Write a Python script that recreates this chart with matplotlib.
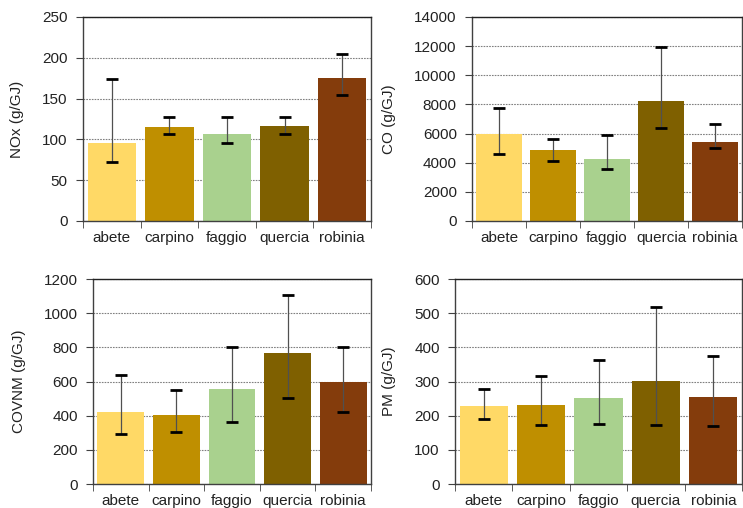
import numpy as np
import matplotlib
matplotlib.use("Agg")
import matplotlib.pyplot as plt

plt.rcParams['font.family'] = ['Liberation Sans', 'DejaVu Sans']

species = ["abete", "carpino", "faggio", "quercia", "robinia"]
colors = ["#FFD966", "#BF8F00", "#A9D18E", "#7F6000", "#843C0C"]

# mean values with lower / upper ends of the error bars
nox = [95, 115, 107, 116, 175]
nox_lo = [72, 106, 95, 106, 154]
nox_hi = [174, 127, 128, 128, 205]

co = [5950, 4850, 4250, 8250, 5450]
co_lo = [4570, 4130, 3580, 6400, 4980]
co_hi = [7780, 5660, 5900, 11950, 6680]

covnm = [420, 402, 554, 765, 600]
covnm_lo = [291, 302, 361, 503, 420]
covnm_hi = [638, 552, 800, 1104, 804]

pm = [228, 232, 251, 302, 254]
pm_lo = [190, 174, 176, 174, 170]
pm_hi = [278, 315, 363, 518, 375]


def draw_panel(ax, vals, lo, hi, ymax, ystep, ylabel):
    x = np.arange(len(species))
    ax.set_axisbelow(True)
    ax.yaxis.grid(True, linestyle=(0, (1.5, 1.0)), color="#808080", linewidth=0.8)
    ax.bar(x, vals, 0.84, color=colors, zorder=2)
    vals = np.array(vals)
    yerr = [vals - np.array(lo), np.array(hi) - vals]
    eb = ax.errorbar(x, vals, yerr=yerr, fmt="none", ecolor="#505050", elinewidth=0.9,
                     capsize=4.2, capthick=2.0, zorder=3)
    for cap in eb[1]:
        cap.set_markeredgecolor("black")
    ax.set_xlim(-0.5, len(species) - 0.5)
    ax.set_ylim(0, ymax)
    ax.set_yticks(np.arange(0, ymax + 1, ystep))
    ax.set_xticks(x)
    ax.set_xticklabels(species)
    ax.set_xticks(np.arange(-0.5, len(species), 1.0), minor=True)
    ax.tick_params(axis="x", which="major", length=0, pad=7, labelsize=11, labelcolor="#222222")
    ax.tick_params(axis="x", which="minor", length=5, color="#404040", direction="out")
    ax.tick_params(axis="y", length=5, color="#404040", labelsize=11, pad=6, labelcolor="#222222")
    ax.set_ylabel(ylabel, fontsize=11, color="#222222", labelpad=13)
    for s in ax.spines.values():
        s.set_color("#404040")
        s.set_linewidth(1.0)
    ax.spines["top"].set_color("#222222")


fig = plt.figure(figsize=(7.43, 5.08), dpi=100)

ax1 = fig.add_axes([0.1117, 0.565, 0.3876, 0.4016])
draw_panel(ax1, nox, nox_lo, nox_hi, 250, 50, "NOx (g/GJ)")

ax2 = fig.add_axes([0.6353, 0.565, 0.3634, 0.4016])
draw_panel(ax2, co, co_lo, co_hi, 14000, 2000, "CO (g/GJ)")

ax3 = fig.add_axes([0.1252, 0.0472, 0.3742, 0.4035])
draw_panel(ax3, covnm, covnm_lo, covnm_hi, 1200, 200, "COVNM (g/GJ)")

ax4 = fig.add_axes([0.6124, 0.0472, 0.3863, 0.4035])
draw_panel(ax4, pm, pm_lo, pm_hi, 600, 100, "PM (g/GJ)")

fig.savefig("out.png", dpi=100)
